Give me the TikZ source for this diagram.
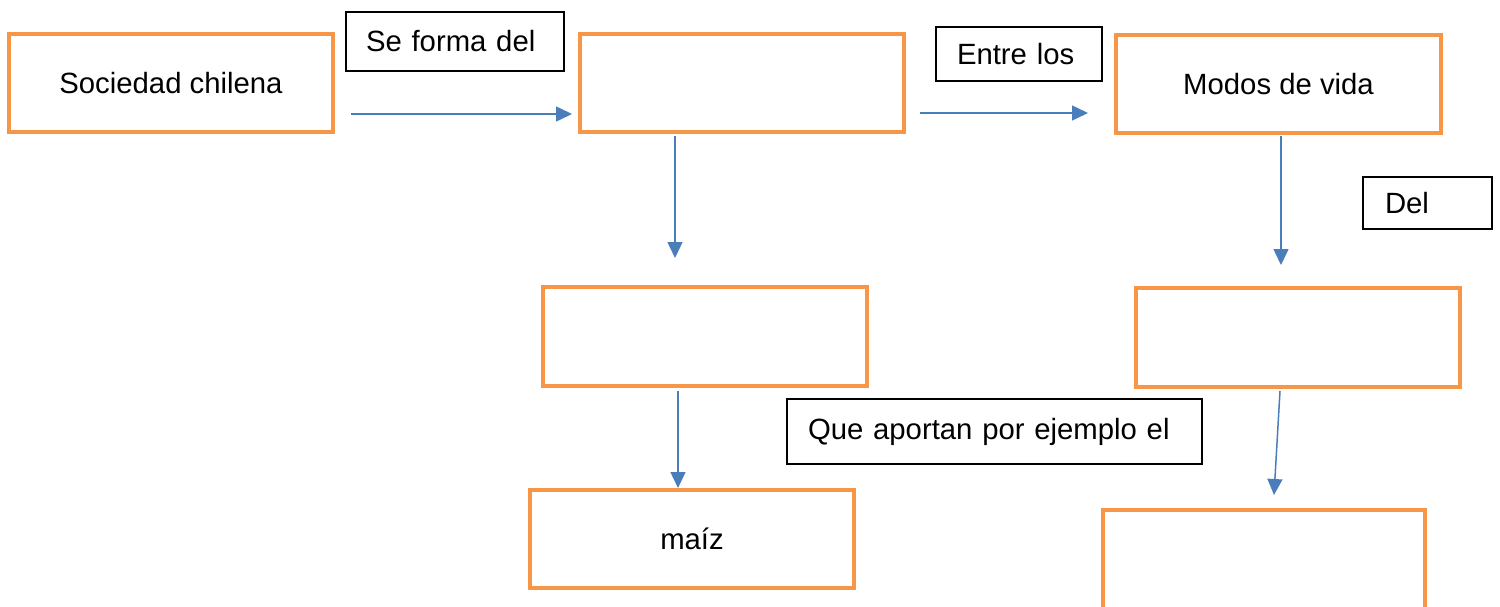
\documentclass[tikz,border=0pt]{standalone}
\usepackage{fontspec}
\setmainfont{Liberation Sans}
\usetikzlibrary{arrows.meta}
\definecolor{boxorange}{HTML}{F79646}
\definecolor{arrowblue}{HTML}{4A7EBB}
\begin{document}
\begin{tikzpicture}[x=1pt,y=-1pt,
  obox/.style={draw=boxorange,line width=4.8pt,rectangle,inner sep=0pt,outer sep=0pt,
    font=\fontsize{29.3}{35}\selectfont},
  lbox/.style={draw=black,line width=1.8pt,rectangle,inner sep=0pt,outer sep=0pt,
    font=\fontsize{29.3}{35}\selectfont},
  arr/.style={draw=arrowblue,line width=1.5pt,-{Triangle[length=16pt,width=15pt]}}]
\clip (0,0) rectangle (1500,607);
\fill[white] (0,0) rectangle (1500,607);
% orange boxes
\node[obox,minimum width=324pt,minimum height=98pt] (soc) at (171,83) {Sociedad chilena};
\node[obox,minimum width=324pt,minimum height=98pt] (b) at (742,83) {};
\node[obox,minimum width=325pt,minimum height=98pt] (mv) at (1278.5,84) {Modos de vida};
\node[obox,minimum width=324pt,minimum height=99pt] (m2) at (705,336.5) {};
\node[obox,minimum width=324pt,minimum height=99pt] (r2) at (1298,337.5) {};
\node[obox,minimum width=324pt,minimum height=98pt] (maiz) at (692,539) {maíz};
\node[obox,minimum width=322pt,minimum height=104pt] (r3) at (1264,562) {};
% label boxes
\node[lbox,minimum height=59pt,text width=178pt,align=left,inner xsep=20pt] (f1) at (455,41.5) {Se forma del};
\node[lbox,minimum height=54pt,text width=146pt,align=left,inner xsep=10pt,inner ysep=0pt] (el) at (1019,54) {\hspace*{11pt}Entre los};
\node[lbox,minimum height=52pt,text width=85pt,align=left,inner xsep=22pt] (del) at (1427.5,203) {Del};
\node[lbox,minimum height=65pt,text width=373pt,align=left,inner xsep=21pt] (que) at (994.5,431.5) {Que aportan por ejemplo el};
% connectors
\draw[arr] ([shift={(18,-18)}]soc.south east) -- ([shift={(-8,-18)}]b.south west);
\draw[arr] ([shift={(16,-19)}]b.south east) -- ([shift={(-28,-20)}]mv.south west);
\draw[arr] ([shift={(95,4)}]b.south west) -- ([shift={(132,-29)}]m2.north west);
\draw[arr] ([shift={(135,5)}]m2.south west) -- ([shift={(148,-2)}]maiz.north west);
\draw[arr] ([shift={(165,3)}]mv.south west) -- ([shift={(145,-23)}]r2.north west);
\draw[arr] ([shift={(144,4)}]r2.south west) -- ([shift={(171,-15)}]r3.north west);
\end{tikzpicture}
\end{document}
